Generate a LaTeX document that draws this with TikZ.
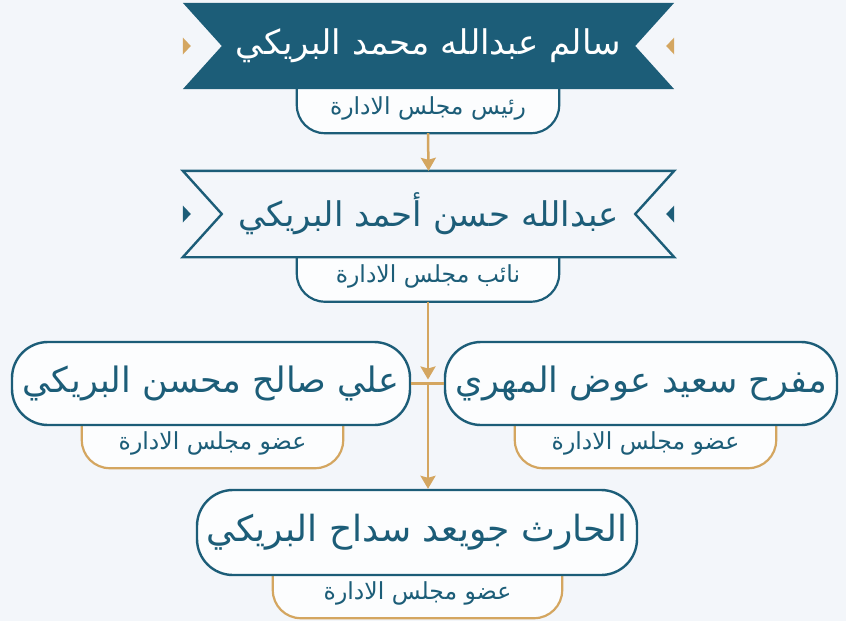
\documentclass[tikz,border=0pt]{standalone}
\usepackage{fontspec}
\TeXXeTstate=1
\newfontfamily\arabicfont[Script=Arabic]{DejaVu Sans}
\usetikzlibrary{calc,arrows.meta,backgrounds}
\definecolor{teal}{HTML}{1C5D78}
\definecolor{gold}{HTML}{D4A660}
\definecolor{bgcol}{HTML}{F3F6FA}
\definecolor{boxfill}{HTML}{FCFDFE}
\begin{document}
\begin{tikzpicture}[
		x=1pt, y=-1pt,
		banner/.style={
			inner sep=0pt,
			minimum width=491pt,
			minimum height=86pt,
			font=\arabicfont\fontsize{34}{40}\selectfont
		},
		namebox/.style={
			draw=teal,
			line width=2.4pt,
			fill=boxfill,
			rounded corners=36pt,
			inner sep=0pt,
			minimum height=83pt,
			text=teal,
			font=\arabicfont\fontsize{35}{42}\selectfont
		},
		tab/.style={
			inner sep=0pt,
			minimum height=44pt,
			text=teal,
			font=\arabicfont\fontsize{23.5}{28}\selectfont
		},
		tabline/.style={fill=boxfill, line width=2.2pt, rounded corners=28pt},
		link/.style={draw=gold, line width=2.5pt},
		tri/.style={-{Stealth[width=15pt,length=13pt,inset=2pt]}}
		]
		
		% page size
		\useasboundingbox (0,0) rectangle (846,621);
		
		% Chairman
		\node[tab] (t1) at (428,108) [minimum width=262pt] {\beginR رئيس مجلس الادارة\endR};
		\node[banner, text=white] (b1) at (428.5,46) {};
		\fill[teal] (b1.north west) -- (b1.north east) -- ($(b1.east)+(-39,0)$) -- (b1.south east)
			-- (b1.south west) -- ($(b1.west)+(39,0)$) -- cycle;
		\node[banner, text=white] at (b1) {\beginR سالم عبدالله محمد البريكي\endR};
		\fill[gold] ($(b1.west)+(0,-8.5)$) -- ($(b1.west)+(8,0)$) -- ($(b1.west)+(0,8.5)$) -- cycle;
		\fill[gold] ($(b1.east)+(0,-8.5)$) -- ($(b1.east)+(-8,0)$) -- ($(b1.east)+(0,8.5)$) -- cycle;
		
		% Vice chairman
		\node[tab] (t2) at (428,276.5) [minimum width=262pt] {\beginR نائب مجلس الادارة\endR};
		\node[banner, text=teal] (b2) at (428.5,214) {};
		\filldraw[fill=bgcol, draw=teal, line width=2.4pt] (b2.north west) -- (b2.north east)
			-- ($(b2.east)+(-39,0)$) -- (b2.south east) -- (b2.south west) -- ($(b2.west)+(39,0)$) -- cycle;
		\node[banner, text=teal] at (b2) {\beginR عبدالله حسن أحمد البريكي\endR};
		\fill[teal] ($(b2.west)+(0,-8.5)$) -- ($(b2.west)+(8,0)$) -- ($(b2.west)+(0,8.5)$) -- cycle;
		\fill[teal] ($(b2.east)+(0,-8.5)$) -- ($(b2.east)+(-8,0)$) -- ($(b2.east)+(0,8.5)$) -- cycle;
		
		% Members
		\node[tab] (t3) at (212.5,443.5) [minimum width=261pt, minimum height=43pt] {\beginR عضو مجلس الادارة\endR};
		\node[tab] (t4) at (645.5,443.5) [minimum width=261pt, minimum height=43pt] {\beginR عضو مجلس الادارة\endR};
		\node[namebox, minimum width=398pt] (m1) at (211,383.5) {\beginR علي صالح محسن البريكي\endR};
		\node[namebox, minimum width=392pt] (m2) at (641,383.5) {\beginR مفرح سعيد عوض المهري\endR};
		
		\node[tab] (t5) at (417.5,593.5) [minimum width=289pt, minimum height=43pt] {\beginR عضو مجلس الادارة\endR};
		\node[namebox, minimum width=440pt, minimum height=85pt, font=\arabicfont\fontsize{36}{42}\selectfont] (m3) at (417,532.5) {\beginR الحارث جويعد سداح البريكي\endR};
		
		% tabs under the names
		\begin{scope}[on background layer]
			\fill[bgcol] (0,0) rectangle (846,621);
			\draw[tabline, draw=teal] ($(t1.north west)+(0,3)$) -- ($(t1.south west)+(0,3)$) -- ($(t1.south east)+(0,3)$) -- ($(t1.north east)+(0,3)$);
			\draw[tabline, draw=teal] ($(t2.north west)+(0,3)$) -- ($(t2.south west)+(0,3)$) -- ($(t2.south east)+(0,3)$) -- ($(t2.north east)+(0,3)$);
			\draw[tabline, draw=gold] ($(t3.north west)+(0,3)$) -- ($(t3.south west)+(0,3)$) -- ($(t3.south east)+(0,3)$) -- ($(t3.north east)+(0,3)$);
			\draw[tabline, draw=gold] ($(t4.north west)+(0,3)$) -- ($(t4.south west)+(0,3)$) -- ($(t4.south east)+(0,3)$) -- ($(t4.north east)+(0,3)$);
			\draw[tabline, draw=gold] ($(t5.north west)+(0,3)$) -- ($(t5.south west)+(0,3)$) -- ($(t5.south east)+(0,3)$) -- ($(t5.north east)+(0,3)$);
		\end{scope}
		
		% Structure lines
		\coordinate (j) at (428,383.5);
		\draw[link, tri] ($(t1.south)+(0,3)$) -- (b2.north);
		\draw[link, tri] ($(t2.south)+(0,3)$) -- ($(j)+(0,-4)$);
		\draw[link] (m1.east) -- (m2.west);
		\draw[link, tri] (j) -- (m3.north -| j);
		
	\end{tikzpicture}
\end{document}
